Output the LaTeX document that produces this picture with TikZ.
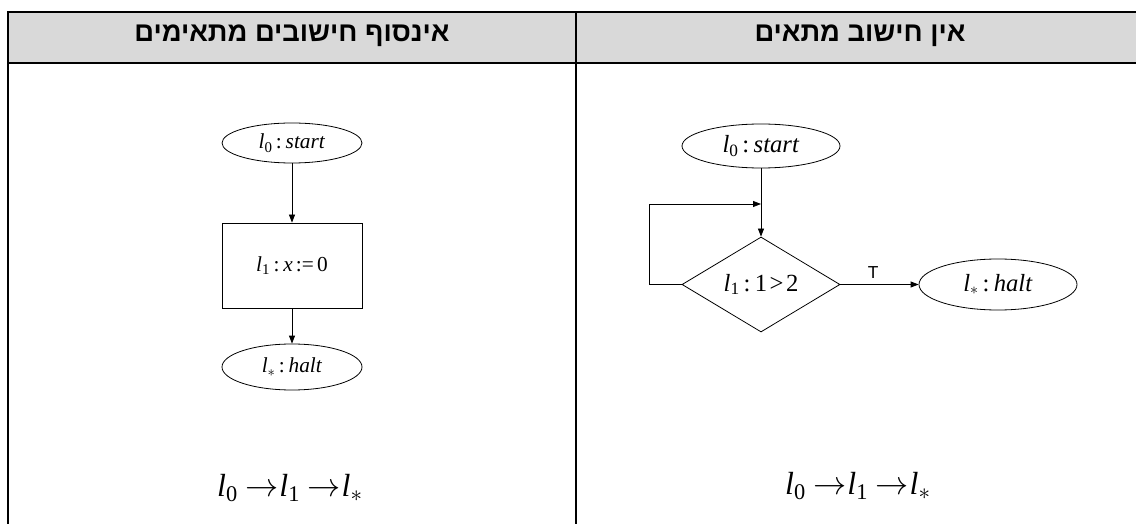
\documentclass[tikz,border=0pt]{standalone}
\usepackage{fontspec}
\setmainfont{Liberation Serif}
\newfontfamily\hebfont[Script=Hebrew]{Liberation Sans}
\newfontfamily\sansf{Liberation Sans}
\TeXXeTstate=1
\usetikzlibrary{shapes.geometric,arrows.meta}
\newcommand{\ls}[1]{\textit{l}\textsubscript{#1}}
\newcommand{\cl}{\hspace{0.15em}:\hspace{0.18em}}
\newcommand{\ra}{\hspace{0.22em}$\rightarrow$\hspace{0.04em}}
\definecolor{hdrgray}{HTML}{D9D9D9}
\begin{document}
\begin{tikzpicture}[x=0.75pt,y=-0.75pt,
  nodefontL/.style={font=\fontsize{16}{19}\selectfont},
  nodefontR/.style={font=\fontsize{18.5}{22}\selectfont},
  tbl/.style={line width=1.5pt},
  ell/.style={ellipse,draw,line width=0.6pt,inner sep=0pt},
  boxn/.style={rectangle,draw,line width=0.6pt,inner sep=0pt},
  dia/.style={diamond,draw,aspect=1.66,line width=0.6pt,inner sep=0pt},
  arr/.style={-{Triangle[length=6pt,width=4.5pt]},line width=0.6pt},
  hdr/.style={font=\hebfont\bfseries\fontsize{20.5}{24}\selectfont},
  formula/.style={font=\fontsize{24}{28}\selectfont},
  tlab/.style={font=\sansf\fontsize{13}{15}\selectfont}]
\useasboundingbox (0,0) rectangle (1136,524);
% table
\fill[hdrgray] (8,12) rectangle (1136,63);
\draw[tbl] (8,12) -- (1136,12);
\draw[tbl] (8,63) -- (1136,63);
\draw[tbl] (8,11.3) -- (8,524);
\draw[tbl] (576,12) -- (576,524);
\node[hdr] (hl) at (292,36) {\beginR אינסוף חישובים מתאימים\endR};
\node[hdr] (hr) at (860,36) {\beginR אין חישוב מתאים\endR};
% left flowchart
\node[ell, nodefontL, minimum width=105pt, minimum height=30pt] (s1) at (292,143) {\ls{0}\cl\textit{start}};
\node[boxn, nodefontL, minimum width=105pt, minimum height=63.75pt] (b1) at (292,265.5) {\ls{1}\cl\textit{x}\hspace{0.15em}:=\hspace{0.15em}0};
\node[ell, nodefontL, minimum width=105pt, minimum height=34.5pt] (e1) at (292,367) {\ls{$*$}\cl\textit{halt}};
\draw[arr] (s1) -- (b1);
\draw[arr] (b1) -- (e1);
% right flowchart
\node[ell, nodefontR, minimum width=118.5pt, minimum height=33pt] (s2) at (761,146) {\ls{0}\cl\textit{start}};
\node[dia, nodefontR, minimum width=118.5pt, minimum height=71.25pt] (d2) at (761,284.5) {\ls{1}\cl 1\hspace{0.1em}\textgreater\hspace{0.1em}2};
\node[ell, nodefontR, minimum width=118.5pt, minimum height=38.25pt] (e2) at (998,284.5) {\ls{$*$}\cl\textit{halt}};
\coordinate (j) at (761,204);
\draw[arr] (s2) -- (d2);
\draw[arr] (d2.west) -- ++(-32,0) |- (j);
\draw[arr] (d2.east) -- node[tlab, above, pos=0.42, yshift=1pt] (tl) {T} (e2);
% formulas
\node[formula] (f1) at (290,488) {\ls{0}\ra\ls{1}\ra\ls{$*$}};
\node[formula] (f2) at (858,486) {\ls{0}\ra\ls{1}\ra\ls{$*$}};
\end{tikzpicture}
\end{document}
